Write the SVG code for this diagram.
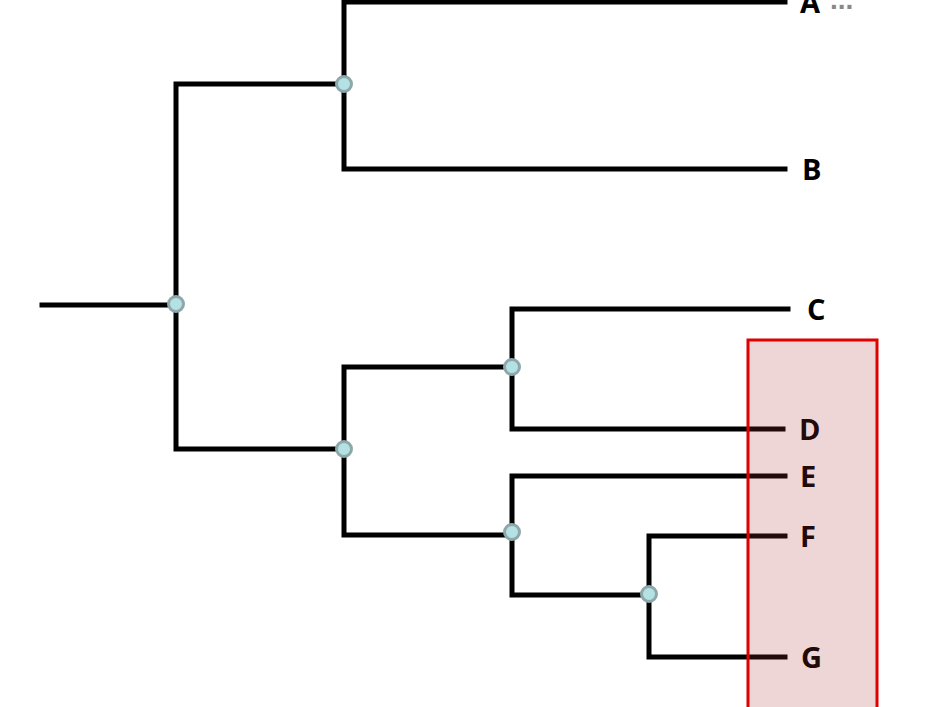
<svg xmlns="http://www.w3.org/2000/svg" width="943" height="707" viewBox="0 0 943 707">
<style>
.e{stroke:#000;stroke-width:5;fill:none;stroke-linecap:square}
.n{fill:#b4e2e4;stroke:#8ea8aa;stroke-width:3}
.t{font-family:"Open Sans","Liberation Sans",sans-serif;font-weight:bold;font-size:29px;fill:#000}
</style>
<rect width="943" height="707" fill="#fff"/>
<g id="connectors">
<path class="e" d="M42,305H176M176,84V449M176,84H344M344,2V169M344,2H785M344,169H785M176,449H344M344,367V535M344,367H512M512,309V429M512,309H788M512,429H783M344,535H512M512,476V595M512,476H785M512,595H649M649,536V657M649,536H785M649,657H785"/>
</g>
<g id="n1"><circle class="n" cx="176" cy="304" r="7.5"/></g>
<g id="n2"><circle class="n" cx="344" cy="84" r="7.5"/></g>
<g id="n3"><circle class="n" cx="344" cy="449" r="7.5"/></g>
<g id="n4"><circle class="n" cx="512" cy="367" r="7.5"/></g>
<g id="n5"><circle class="n" cx="512" cy="532" r="7.5"/></g>
<g id="n6"><circle class="n" cx="649" cy="594" r="7.5"/></g>
<g id="labels">
<text class="t" x="800" y="13">A</text>
<text x="830" y="9" font-family="Liberation Sans,sans-serif" font-weight="bold" font-size="28" fill="#888">...</text>
<text class="t" x="802" y="180">B</text>
<text class="t" x="807" y="320">C</text>
<text class="t" x="799" y="440">D</text>
<text class="t" x="800" y="487">E</text>
<text class="t" x="800" y="547">F</text>
<text class="t" x="801" y="668">G</text>
</g>
<g id="highlight"><rect x="748" y="340" width="129" height="380" fill="#b03030" fill-opacity="0.2" stroke="#e00000" stroke-width="3"/></g>
</svg>
